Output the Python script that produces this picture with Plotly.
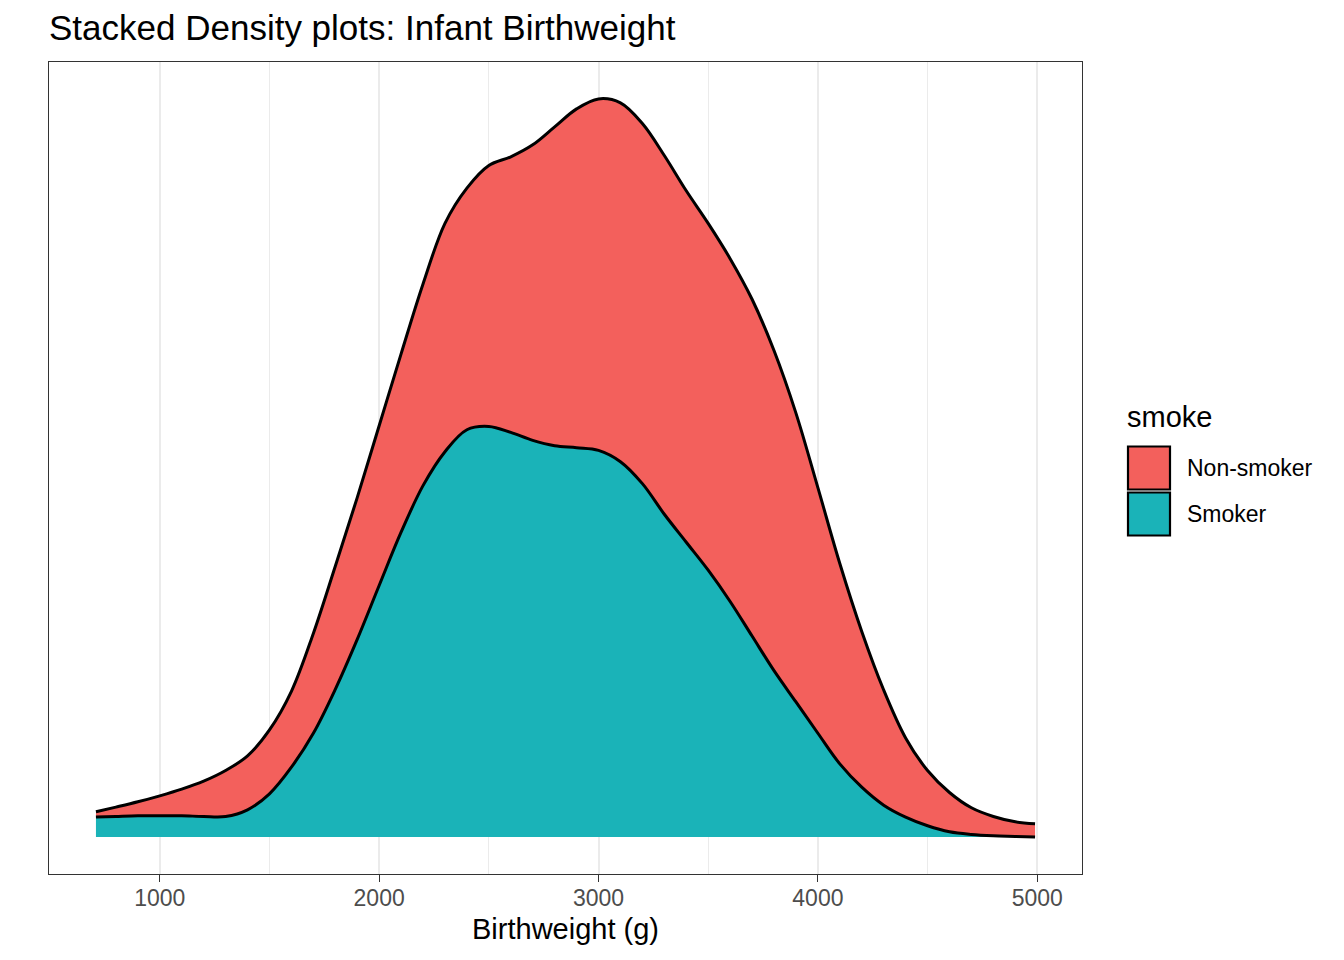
import plotly.graph_objects as go

# ---- data ----
birthweight_g = [709, 800, 900, 1000, 1100, 1200, 1300, 1400, 1500, 1600,
                 1700, 1800, 1900, 2000, 2100, 2200, 2300, 2400, 2500, 2600,
                 2700, 2800, 2900, 3000, 3100, 3200, 3300, 3400, 3500, 3600,
                 3700, 3800, 3900, 4000, 4100, 4200, 4300, 4400, 4500, 4600,
                 4700, 4800, 4900, 4990]

# density values in units of 1e-4 per gram
smoker_density = [0.30, 0.31, 0.32, 0.32, 0.32, 0.31, 0.31, 0.41, 0.65, 1.05,
                  1.56, 2.22, 2.97, 3.78, 4.58, 5.28, 5.79, 6.12, 6.17, 6.08,
                  5.96, 5.88, 5.85, 5.81, 5.64, 5.31, 4.85, 4.43, 4.01, 3.54,
                  3.02, 2.50, 2.03, 1.56, 1.10, 0.75, 0.48, 0.30, 0.17, 0.08,
                  0.04, 0.02, 0.01, 0.00]

nonsmoker_density = [0.08, 0.14, 0.21, 0.30, 0.40, 0.53, 0.69, 0.81, 0.96, 1.14,
                     1.50, 1.85, 2.13, 2.40, 2.68, 3.03, 3.43, 3.63, 3.92, 4.14,
                     4.44, 4.79, 5.09, 5.28, 5.39, 5.41, 5.39, 5.28, 5.21, 5.15,
                     5.06, 4.81, 4.34, 3.69, 3.01, 2.34, 1.73, 1.19, 0.83, 0.59,
                     0.40, 0.29, 0.22, 0.20]

groups = ["Non-smoker", "Smoker"]
tick_values = [1000, 2000, 3000, 4000, 5000]
tick_labels = ["1000", "2000", "3000", "4000", "5000"]
minor_tick_values = [1500, 2500, 3500, 4500]

# ---- styling ----
OFF = 8                                  # page body margin in the browser
W, H = 1344 - 2 * OFF, 960 - 2 * OFF
L, R, T, B = 49, 1082, 62, 874          # plot panel, reference page pixels
colors = {"Non-smoker": "#F3605C", "Smoker": "#1AB3B8"}
FONT = "Liberation Sans, Arial, Helvetica, sans-serif"
LINE = dict(color="black", width=3, shape="spline", smoothing=1.0)

fig = go.Figure()
# Smoker first (bottom of stack), Non-smoker stacked on top
fig.add_trace(go.Scatter(
    x=birthweight_g, y=smoker_density, name="Smoker", stackgroup="one",
    mode="lines", line=LINE, fillcolor=colors["Smoker"],
    showlegend=False, hoverinfo="x+y+name"))
fig.add_trace(go.Scatter(
    x=birthweight_g, y=nonsmoker_density, name="Non-smoker", stackgroup="one",
    mode="lines", line=LINE, fillcolor=colors["Non-smoker"],
    showlegend=False, hoverinfo="x+y+name"))

xmin, xmax = min(birthweight_g), max(birthweight_g)
xpad = 0.05 * (xmax - xmin)
ytop = max(s + n for s, n in zip(smoker_density, nonsmoker_density))
ypad = 0.05 * ytop

fig.update_layout(
    width=W, height=H,
    margin=dict(l=L - OFF, r=W - (R - OFF), t=T - OFF, b=H - (B - OFF), pad=0),
    paper_bgcolor="white", plot_bgcolor="white",
    font=dict(family=FONT, color="black"),
    title=dict(text="Stacked Density plots: Infant Birthweight",
               font=dict(size=35, color="black", family=FONT),
               x=0, xref="paper", xanchor="left",
               y=1 - (28 - OFF) / H, yref="container", yanchor="middle"),
    xaxis=dict(range=[xmin - xpad, xmax + xpad],
               tickmode="array", tickvals=tick_values, ticktext=tick_labels,
               ticks="outside", ticklen=7, tickwidth=1.4, tickcolor="#333333",
               ticklabelstandoff=-4,
               tickfont=dict(size=23, color="#4D4D4D", family=FONT),
               showgrid=True, gridcolor="#EBEBEB", gridwidth=2.2,
               minor=dict(tickmode="array", tickvals=minor_tick_values,
                          showgrid=True, gridcolor="#EBEBEB", gridwidth=1.1, ticks=""),
               zeroline=False, showline=True, mirror=True,
               linecolor="#333333", linewidth=1.4,
               title=dict(text="Birthweight (g)", standoff=8,
                          font=dict(size=29, color="black", family=FONT))),
    yaxis=dict(range=[-ypad, ytop + ypad], showticklabels=False, ticks="",
               showgrid=False, zeroline=False, showline=True, mirror=True,
               linecolor="#333333", linewidth=1.4),
)

# ---- legend drawn as keys + text (positions in reference page pixels) ----
def px_x(p):
    return (p - L) / (R - L)

def px_y(p):
    return (B - p) / (B - T)

fig.add_annotation(text="smoke", xref="paper", yref="paper",
                   x=px_x(1125), y=px_y(417), xanchor="left", yanchor="middle",
                   showarrow=False, font=dict(size=29, color="black", family=FONT))
key_top = 445
key_h = 46
for i, g in enumerate(groups):
    y0 = key_top + i * key_h
    fig.add_shape(type="rect", xref="paper", yref="paper",
                  x0=px_x(1128), x1=px_x(1170), y0=px_y(y0 + 1.5), y1=px_y(y0 + key_h - 1.5),
                  fillcolor=colors[g], line=dict(color="black", width=2.2))
    fig.add_annotation(text=g, xref="paper", yref="paper",
                       x=px_x(1185), y=px_y(y0 + key_h / 2), xanchor="left", yanchor="middle",
                       showarrow=False, font=dict(size=23, color="black", family=FONT))

fig.write_html("out.html")
